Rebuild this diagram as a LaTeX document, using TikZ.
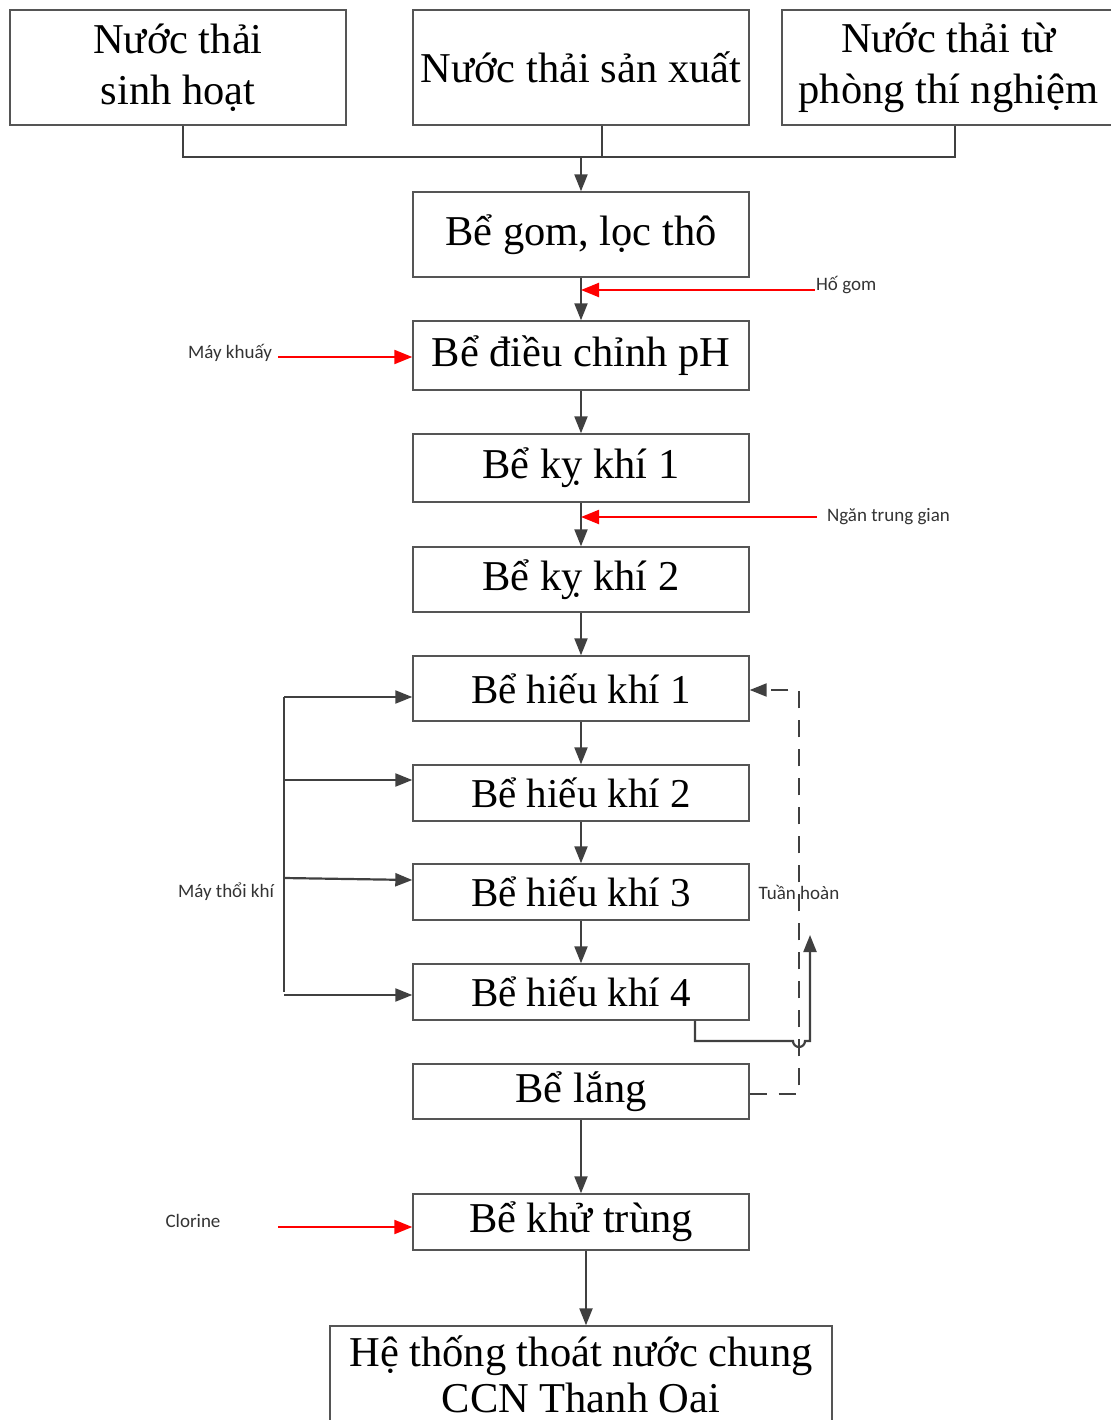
\documentclass[tikz,border=0pt]{standalone}
\usepackage{fontspec}
\setmainfont{Liberation Serif}
\newfontfamily\lblfont{Carlito}
\usetikzlibrary{arrows.meta}

\definecolor{linegray}{HTML}{404040}
\definecolor{boxgray}{HTML}{555555}

\tikzset{
  box/.style={draw=boxgray, line width=1.4pt, inner sep=0pt, align=center,
    minimum width=336pt, font=\fontsize{42.5}{51}\selectfont},
  hkbox/.style={box, font=\fontsize{41}{50}\selectfont},
  lbl/.style={font=\lblfont\fontsize{19}{22}\selectfont, text=black!80, inner sep=0pt},
  feed/.style={red, line width=2.2pt, -{Triangle[length=18pt,width=14pt]}},
}

\begin{document}
\begin{tikzpicture}[x=1pt,y=-1pt,->,>={Triangle[length=17pt,width=13pt]},
      line width=2.2pt,draw=linegray]
			\useasboundingbox (0,0) rectangle (1110,1420);
			% nguon nuoc thai
			\node[box,minimum height=115pt] (sh) at (178,67.5) {Nước thải\\sinh hoạt};
			\node[box,minimum height=115pt] (sx) at (581,67.5) {Nước thải sản xuất};
			\node[box,minimum width=333pt,minimum height=115pt] (ptn) at (948.5,67.5) {Nước thải từ\\phòng thí nghiệm};
			% day be
			\node[box,minimum height=85pt] (gom) at (581,234.5) {Bể gom, lọc thô};
			\node[box,minimum height=69pt] (ph) at (581,355.5) {Bể điều chỉnh pH};
			\node[box,minimum height=68pt] (ky1) at (581,468) {Bể kỵ khí 1};
			\node[box,minimum height=65pt] (ky2) at (581,579.5) {Bể kỵ khí 2};
			\node[hkbox,minimum height=65pt] (hk1) at (581,688.5) {Bể hiếu khí 1};
			\node[hkbox,minimum height=56pt] (hk2) at (581,793) {Bể hiếu khí 2};
			\node[hkbox,minimum height=56pt] (hk3) at (581,892) {Bể hiếu khí 3};
			\node[hkbox,minimum height=56pt] (hk4) at (581,992) {Bể hiếu khí 4};
			\node[box,minimum height=55pt] (lang) at (581,1091.5) {Bể lắng};
			\node[box,minimum height=56pt] (khu) at (581,1222) {Bể khử trùng};
			\node[box,minimum width=502pt,minimum height=96pt,font=\fontsize{42.5}{46}\selectfont] (ra) at (581,1374) {Hệ thống thoát nước chung\\CCN Thanh Oai};
			% nhan phu
			\node[lbl,anchor=west] (hg) at (815,285) {Hố gom};
			\node[lbl,anchor=east] (mk) at (273,353) {Máy khuấy};
			\node[lbl,anchor=west] (ntg) at (826,517) {Ngăn trung gian};
			\node[lbl,anchor=east] (mtk) at (275,892) {Máy thổi khí};
			\node[lbl] (th) at (799,892) {Tuần hoàn};
			\node[lbl] (clo) at (193,1221) {Clorine};
			\coordinate (j) at (581,157);
			\coordinate (ret) at (810,935);
			% gom nuoc
			\draw[-] (sh.south -| 183,0) |- (j);
			\draw[-] (sx.south -| 602,0) |- (j);
			\draw[-] (ptn.south -| 955,0) |- (j);
			\path
				(j) edge (gom)
				(gom) edge (ph)
				(ph) edge (ky1)
				(ky1) edge (ky2)
				(ky2) edge (hk1)
				(hk1) edge (hk2)
				(hk2) edge (hk3)
				(hk3) edge (hk4)
				(lang) edge (khu)
				(khu.south -| 586,0) edge (ra.north -| 586,0);
			% cap khi
			\draw[-] (hk1.west -| 284,0) ++(0,8.5) coordinate (k1) -- (hk4.west -| 284,0) ++(0,3) coordinate (k4);
			\draw (k1) -- (k1 -| hk1.west);
			\draw (284,780) -- (hk2.west |- 0,780);
			\draw (284,878) -- (hk3.west |- 0,880);
			\draw (k4) -- (k4 -| hk4.west);
			% hoa chat
			\draw[feed] (hg.west |- 0,290) -- (gom.south |- 0,290);
			\draw[feed] (mk.east |- 0,357) ++(5,0) -- (ph.west |- 0,357);
			\draw[feed] (ntg.west |- 0,517) ++(-9,0) -- (ky1.south |- 0,517);
			\draw[feed] (278,1227) -- (khu.west |- 0,1227);
			% tuan hoan
			\draw (hk4.south -| 695,0) -- (695,1041) -- (793,1041) arc[start angle=180,end angle=0,radius=6] -- (810,1041) -- (ret);
			\draw[dash pattern=on 17pt off 12pt] (lang.east |- 0,1094) -- (799,1094) -- (799,690) -- (hk1.east |- 0,690);
\end{tikzpicture}
\end{document}
